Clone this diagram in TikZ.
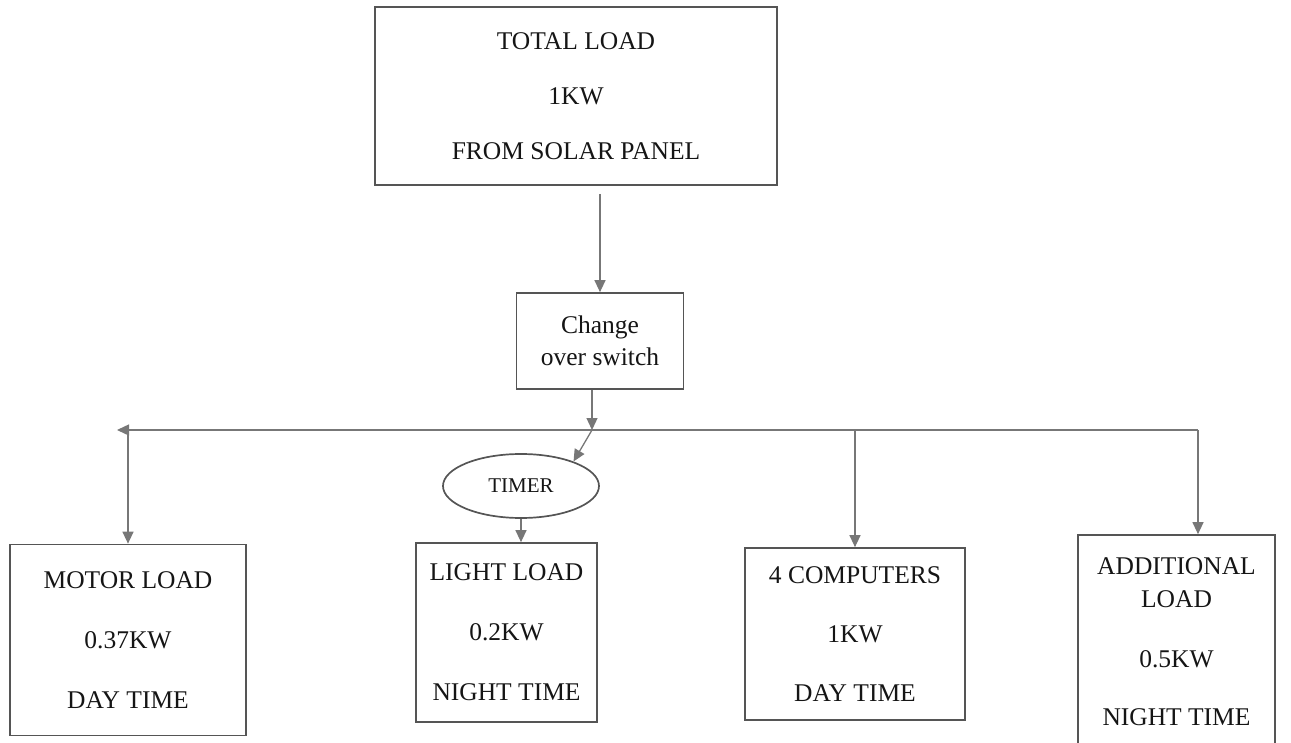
\documentclass[tikz,border=0pt]{standalone}
\usepackage{fontspec}
\setmainfont{Liberation Serif}
\usetikzlibrary{arrows.meta,shapes.geometric}
\definecolor{boxc}{HTML}{555555}
\definecolor{linec}{HTML}{777777}
\definecolor{txt}{HTML}{151515}
\begin{document}
\begin{tikzpicture}[x=1pt,y=-1pt,
  box/.style={draw=boxc, line width=1.7pt, inner sep=0pt, align=center,
    font=\fontsize{25.5}{32}\selectfont, text=txt},
  conn/.style={draw=linec, line width=1.3pt,
    -{Triangle[length=12pt,width=11pt,fill=linec]}}]
\useasboundingbox (0,0) rectangle (1291,743);

\node[box, minimum width=402pt, minimum height=178pt] (top) at (576,96)
  {TOTAL LOAD\\[23pt]1KW\\[23pt]FROM SOLAR PANEL};
\node[box, minimum width=167pt, minimum height=96pt] (switch) at (600,341)
  {Change\\over switch};
\node[box, minimum width=236pt, minimum height=191pt] (motor) at (128,640)
  {MOTOR LOAD\\[28pt]0.37KW\\[28pt]DAY TIME};
\node[box, minimum width=181pt, minimum height=179pt] (light) at (506.5,632.5)
  {LIGHT LOAD\\[28pt]0.2KW\\[28pt]NIGHT TIME};
\node[box, minimum width=220pt, minimum height=172pt] (comp) at (855,634)
  {4 COMPUTERS\\[27pt]1KW\\[27pt]DAY TIME};
\node[box, minimum width=197pt, minimum height=214pt] (add) at (1176.5,642)
  {ADDITIONAL\\[1pt]LOAD\\[28pt]0.5KW\\[26pt]NIGHT TIME};
\node[box, ellipse, minimum width=156pt, minimum height=64pt,
  font=\fontsize{21}{24}\selectfont] (timer) at (521,486) {TIMER};

\coordinate (bl) at (117,430);
\coordinate (br) at (1198,430);
\coordinate (jn) at (592,430);

\draw[conn] (switch.north |- top.south) ++(0,8) -- (switch.north);
\draw[conn] (switch.south -| jn) -- (jn);
\draw[conn] (br) -- (bl);
\draw[conn] (br) -- (br |- add.north);
\draw[conn] (motor.north |- bl) -- (motor.north);
\draw[conn] (comp.north |- bl) -- (comp.north);
\draw[conn] (jn) -- (timer.25);
\draw[conn] (timer.south) -- (timer.south |- light.north);
\end{tikzpicture}
\end{document}
